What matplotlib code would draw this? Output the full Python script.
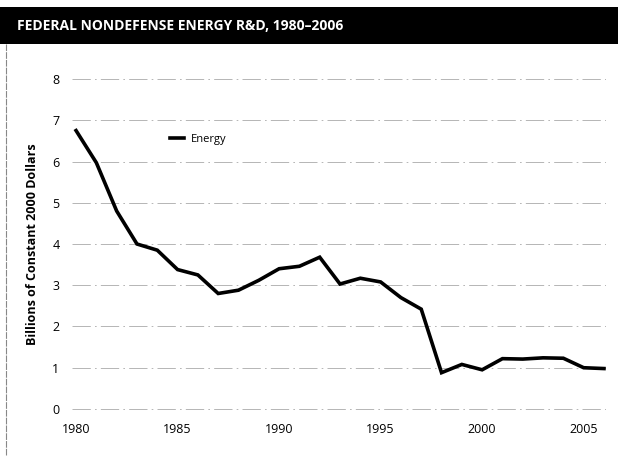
import matplotlib

matplotlib.use("Agg")
import matplotlib.pyplot as plt
from matplotlib.lines import Line2D

# Federal nondefense energy R&D, billions of constant 2000 dollars
years = list(range(1980, 2007))
energy = [6.75, 5.97, 4.80, 4.00, 3.85, 3.38, 3.25, 2.80, 2.88, 3.12,
          3.40, 3.46, 3.68, 3.03, 3.17, 3.08, 2.70, 2.42, 0.88, 1.08,
          0.95, 1.22, 1.21, 1.24, 1.23, 1.00, 0.98]

y_ticks = [0, 1, 2, 3, 4, 5, 6, 7, 8]
x_ticks = [1980, 1985, 1990, 1995, 2000, 2005]

title = "FEDERAL NONDEFENSE ENERGY R&D, 1980\u20132006"
y_label = "Billions of Constant 2000 Dollars"
series_name = "Energy"

plt.rcParams["font.family"] = ["Open Sans", "DejaVu Sans"]

fig = plt.figure(figsize=(6.18, 4.57), dpi=100)

# black title band across the top
band = fig.add_axes([0, 1 - 44 / 457, 1, 37 / 457])
band.set_facecolor("black")
band.set_xticks([])
band.set_yticks([])
for s in band.spines.values():
    s.set_visible(False)
band.text(17 / 618, 0.5, title, color="white", fontsize=10, fontweight="bold",
          ha="left", va="center", transform=band.transAxes)

# thin rule down the left edge
fig.add_artist(Line2D([5.5 / 618, 5.5 / 618], [2 / 457, 1 - 44 / 457],
                      color="#888888", lw=0.8, ls=(0, (6, 1)), transform=fig.transFigure))

ax = fig.add_axes([72 / 618, 43.9 / 457, 534 / 618, 338.2 / 457])
ax.plot(years, energy, color="black", lw=2.6, solid_joinstyle="miter", label=series_name)
ax.set_xlim(1979.8, 2006.1)
ax.set_ylim(-0.1, 8.1)

for v in y_ticks:
    ax.axhline(v, color="#aaaaaa", lw=0.6, ls=(0, (22, 5, 2, 5)), zorder=0)

ax.set_yticks(y_ticks)
ax.set_xticks(x_ticks)
ax.tick_params(length=0, labelsize=9, colors="black")
ax.tick_params(axis="y", pad=9)
ax.tick_params(axis="x", pad=7)
for s in ax.spines.values():
    s.set_visible(False)

fig.text(33 / 618, 1 - 244 / 457, y_label, rotation=90, ha="center", va="center",
         fontsize=9, fontweight="bold")

ax.legend(loc="center left", bbox_to_anchor=(0.175, 0.81), frameon=False,
          fontsize=8, handlelength=1.3, handletextpad=0.6, borderaxespad=0)

fig.savefig("out.png", dpi=100)
